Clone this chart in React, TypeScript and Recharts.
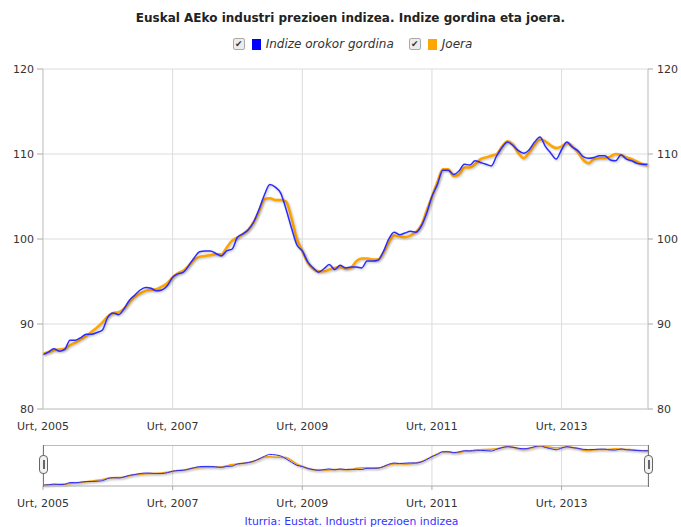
import { LineChart, Line, XAxis, YAxis, CartesianGrid } from "recharts";

// monthly series, Jan 2005 .. May 2014
const rawIndex = [
  86.4, 86.7, 87.1, 86.8, 87.0, 88.1, 88.1, 88.4, 88.8, 88.8, 89.0, 89.3,
  90.8, 91.3, 91.1, 91.8, 92.8, 93.4, 94.0, 94.3, 94.2, 93.9, 94.0, 94.5,
  95.5, 95.9, 96.1, 96.9, 97.8, 98.5, 98.6, 98.6, 98.3, 98.0, 98.6, 98.8,
  100.2, 100.6, 101.1, 102.0, 103.5, 105.2, 106.4, 106.1, 105.4, 103.5, 101.3, 99.3,
  98.6, 97.3, 96.6, 96.1, 96.5, 97.0, 96.4, 96.9, 96.6, 96.7, 96.7, 96.6,
  97.4, 97.4, 97.5, 98.5, 100.0, 100.8, 100.5, 100.7, 100.9, 100.8, 101.5, 103.0,
  105.0, 106.4, 108.1, 108.1, 107.6, 108.0, 108.8, 108.7, 109.2, 109.0, 108.8, 108.6,
  109.8, 110.8, 111.4, 111.0, 110.4, 110.1, 110.5, 111.4, 112.0, 110.9, 110.1, 109.4,
  110.5, 111.4, 110.8, 110.4, 109.7, 109.5, 109.6, 109.8, 109.8, 109.3, 109.2, 109.9,
  109.4, 109.2, 108.9, 108.8, 108.8,
];

const trendIndex = [
  86.5, 86.7, 86.9, 87.0, 87.1, 87.5, 87.8, 88.2, 88.6, 89.1, 89.6, 90.2,
  90.9, 91.3, 91.4, 91.8, 92.6, 93.2, 93.6, 93.9, 94.0, 94.1, 94.4, 94.8,
  95.5, 96.0, 96.3, 96.9, 97.6, 97.9, 98.0, 98.1, 98.2, 98.2, 99.0, 99.8,
  100.2, 100.6, 101.1, 102.0, 103.3, 104.7, 104.8, 104.6, 104.6, 104.4, 102.5, 100.0,
  98.6, 97.2, 96.5, 96.2, 96.2, 96.4, 96.6, 96.7, 96.5, 96.6, 97.4, 97.7,
  97.7, 97.6, 97.6, 98.4, 99.6, 100.4, 100.3, 100.2, 100.4, 100.8, 101.6, 103.3,
  105.0, 106.7, 108.2, 108.2, 107.4, 107.6, 108.4, 108.4, 108.8, 109.4, 109.6, 109.8,
  110.0, 110.9, 111.5, 111.1, 110.1, 109.5, 110.2, 111.1, 111.7, 111.5, 111.0, 110.7,
  110.9, 111.3, 110.9, 110.2, 109.3, 108.9, 109.4, 109.5, 109.5, 109.7, 110.0, 109.9,
  109.6, 109.4, 109.1, 108.8, 108.6,
];

const xTicks = [0, 24, 48, 72, 96];
const xTickLabels = ["Urt, 2005", "Urt, 2007", "Urt, 2009", "Urt, 2011", "Urt, 2013"];
const yTicks = [80, 90, 100, 110, 120];

const BLUE = "#2b2bff";
const ORANGE = "#ffa500";
const FONT = "'DejaVu Sans', Verdana, sans-serif";

const data = rawIndex.map((v, i) => ({ i, raw: v, trend: trendIndex[i] }));
const fmtX = (v: number) => xTickLabels[xTicks.indexOf(v)] ?? "";

const tickStyle = { fontSize: 11, fill: "#333", fontFamily: FONT };

function Handle({ left }: { left: number }) {
  return (
    <div
      style={{
        position: "absolute",
        left,
        top: 455,
        width: 9,
        height: 19,
        border: "1px solid #666",
        borderRadius: 4,
        background: "#f2f2f2",
        boxSizing: "border-box",
      }}
    >
      <div style={{ position: "absolute", left: 2.5, top: 4, width: 2, height: 9, background: "#666" }} />
    </div>
  );
}

function Check() {
  return (
    <span
      style={{
        display: "inline-flex",
        alignItems: "center",
        justifyContent: "center",
        width: 10,
        height: 10,
        border: "1px solid #aaa",
        borderRadius: 2,
        background: "#ececec",
        color: "#333",
        fontSize: 9,
        fontStyle: "normal",
        lineHeight: "10px",
        marginRight: 7,
      }}
    >
      ✔
    </span>
  );
}

export default function App() {
  return (
    <div style={{ position: "absolute", left: 0, top: 0, width: 681, height: 527, background: "#fff", fontFamily: FONT }}>
      <style>{`.recharts-line-curve { filter: drop-shadow(1px 1px 1px rgba(0,0,0,0.25)); }`}</style>
      <div style={{ position: "absolute", top: 11, left: 20, width: 661, textAlign: "center", fontSize: 12, fontWeight: "bold", color: "#222" }}>
        Euskal AEko industri prezioen indizea. Indize gordina eta joera.
      </div>
      <div style={{ position: "absolute", top: 37, left: 24, width: 657, display: "flex", justifyContent: "center", alignItems: "center", fontSize: 12, fontStyle: "italic", color: "#333" }}>
        <Check />
        <span style={{ width: 9, height: 11, background: "#0000ff", marginRight: 5 }} />
        <span style={{ marginRight: 15 }}>Indize orokor gordina</span>
        <Check />
        <span style={{ width: 9, height: 11, background: ORANGE, marginRight: 5 }} />
        <span>Joera</span>
      </div>

      <div style={{ position: "absolute", left: 0, top: 0 }}>
        <LineChart width={681} height={440} data={data} margin={{ top: 69, right: 0, bottom: 1, left: 8 }}>
          <CartesianGrid yAxisId="l" stroke="#dcdcdc" />
          <XAxis
            dataKey="i"
            type="number"
            domain={[0, 112]}
            ticks={xTicks}
            tickFormatter={fmtX}
            tickLine={false}
            axisLine={{ stroke: "#ccc" }}
            height={30}
            tick={tickStyle}
            tickMargin={7}
          />
          <YAxis
            yAxisId="l"
            type="number"
            domain={[80, 120]}
            ticks={yTicks}
            width={35}
            tick={tickStyle}
            tickLine={{ stroke: "#aaa" }}
            axisLine={{ stroke: "#ccc" }}
            tickSize={6}
            tickMargin={3}
          />
          <YAxis
            yAxisId="r"
            type="number"
            orientation="right"
            domain={[80, 120]}
            ticks={yTicks}
            width={33}
            tick={tickStyle}
            tickLine={{ stroke: "#aaa" }}
            axisLine={{ stroke: "#ccc" }}
            tickSize={5}
            tickMargin={4}
          />
          <Line yAxisId="r" type="monotone" dataKey="trend" stroke={ORANGE} strokeWidth={2.5} dot={false} isAnimationActive={false} />
          <Line yAxisId="l" type="monotone" dataKey="raw" stroke={BLUE} strokeWidth={1.5} dot={false} isAnimationActive={false} />
        </LineChart>
      </div>

      <div style={{ position: "absolute", left: 0, top: 440 }}>
        <LineChart width={681} height={80} data={data} margin={{ top: 5, right: 33, bottom: 0, left: 43 }}>
          <CartesianGrid stroke="#dcdcdc" horizontal={false} />
          <XAxis
            dataKey="i"
            type="number"
            domain={[0, 112]}
            ticks={xTicks}
            tickFormatter={fmtX}
            tickLine={{ stroke: "#aaa" }}
            tickSize={4}
            axisLine={{ stroke: "#aaa" }}
            height={34}
            tick={tickStyle}
            tickMargin={9}
          />
          <YAxis hide domain={["dataMin - 0.5", "dataMax + 0.5"]} />
          <Line type="monotone" dataKey="trend" stroke={ORANGE} strokeWidth={1.5} dot={false} isAnimationActive={false} />
          <Line type="monotone" dataKey="raw" stroke={BLUE} strokeWidth={1} dot={false} isAnimationActive={false} />
        </LineChart>
      </div>
      <div style={{ position: "absolute", left: 43, top: 445, width: 605, height: 0, borderTop: "1px solid #bbb" }} />
      <div style={{ position: "absolute", left: 43, top: 445, width: 1, height: 42, background: "#777" }} />
      <div style={{ position: "absolute", left: 648, top: 445, width: 1, height: 42, background: "#777" }} />
      <Handle left={39} />
      <Handle left={644} />

      <div style={{ position: "absolute", top: 515, left: 22, width: 659, textAlign: "center", fontSize: 10.8, color: "#3333ff" }}>
        Iturria: Eustat. Industri prezioen indizea
      </div>
    </div>
  );
}
